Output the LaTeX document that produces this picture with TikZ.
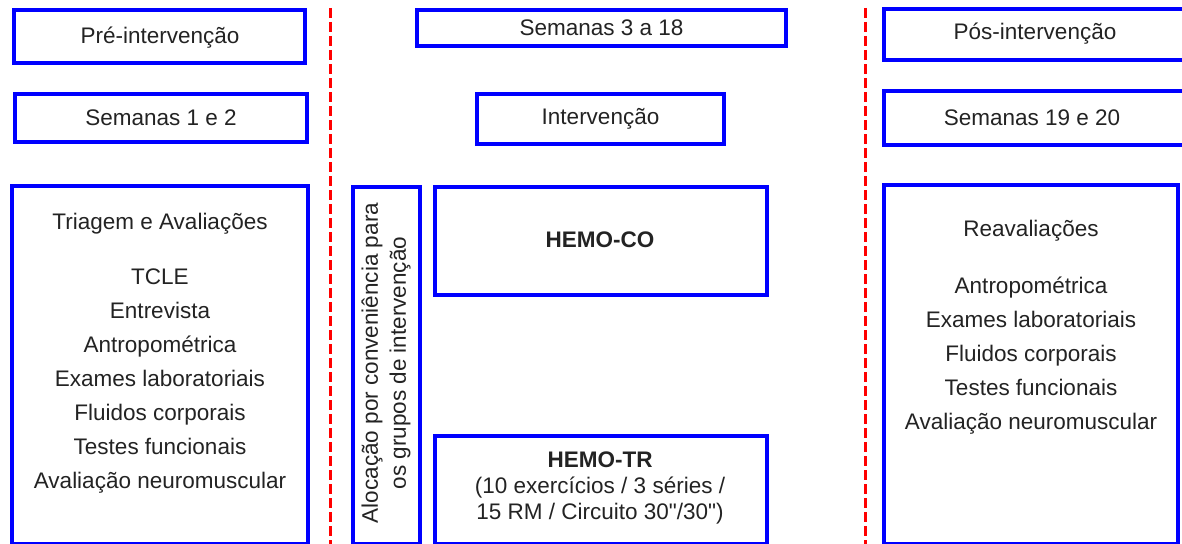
\documentclass[tikz,border=0pt]{standalone}
\usepackage{fontspec}
\setmainfont{Liberation Sans}[Ligatures=TeXOff]
\definecolor{txt}{RGB}{35,35,35}
\definecolor{boxblue}{RGB}{0,0,255}
\definecolor{sepred}{RGB}{255,0,0}
\tikzset{
  box/.style={draw=boxblue, line width=4pt, rectangle, inner sep=0pt, fill=white},
  lbl/.style={text=txt, font=\fontsize{22.5}{26}\selectfont, align=center, inner sep=0pt},
  listlbl/.style={text=txt, font=\fontsize{22.5}{34}\selectfont, align=center, inner sep=0pt},
  sepline/.style={draw=sepred, line width=3pt, dash pattern=on 10pt off 4pt}
}
\begin{document}
\begin{tikzpicture}[x=1pt,y=-1pt]
\useasboundingbox (0,0) rectangle (1182,543);
\fill[white] (0,0) rectangle (1182,543);

% separators
\coordinate (s1t) at (330,8);
\coordinate (s1b) at (330,545);
\coordinate (s2t) at (865,8);
\coordinate (s2b) at (865,545);
\draw[sepline] (s1t) -- (s1b);
\draw[sepline] (s2t) -- (s2b);

% left column
\node[box, minimum width=291pt, minimum height=53pt] (pre) at (159.5,36.5) {};
\node[lbl] (pret) at (160,37.5) {Pré-intervenção};
\node[box, minimum width=292pt, minimum height=48pt] (s12) at (161,118) {};
\node[lbl] (s12t) at (s12.center) {Semanas 1 e 2};
\node[box, minimum width=296pt, minimum height=357.5pt] (tri) at (160,364.75) {};
\node[listlbl] (trit) at (160,353.5) {Triagem e Avaliações\\[21pt]TCLE\\Entrevista\\Antropométrica\\Exames laboratoriais\\Fluidos corporais\\Testes funcionais\\Avaliação neuromuscular};

% middle column
\node[box, minimum width=369pt, minimum height=36pt] (s318) at (601.5,28) {};
\node[lbl] (s318t) at (s318.center) {Semanas 3 a 18};
\node[box, minimum width=247pt, minimum height=50pt] (int) at (600.5,119) {};
\node[lbl] (intt) at (int.center) {Intervenção};
\node[box, minimum width=67pt, minimum height=356.5pt] (aloc) at (386.5,365.25) {};
\node[lbl, rotate=90, font=\fontsize{22.5}{28}\selectfont] (aloct) at (386,363) {Alocação por conveniência para\\os grupos de intervenção};
\node[box, minimum width=332pt, minimum height=108pt] (co) at (601,241) {};
\node[lbl, font=\bfseries\fontsize{22.5}{26}\selectfont] (cot) at (600,240) {HEMO-CO};
\node[box, minimum width=332pt, minimum height=107.5pt] (tr) at (601,489.75) {};
\node[lbl] (trt) at (600,488) {\textbf{HEMO-TR}\\(10 exercícios / 3 séries /\\15 RM / Circuito 30"/30")};

% right column
\node[box, minimum width=306pt, minimum height=51pt] (pos) at (1037,34.5) {};
\node[lbl] (post) at (1035,34) {Pós-intervenção};
\node[box, minimum width=306pt, minimum height=54pt] (s1920) at (1037,118) {};
\node[lbl] (s1920t) at (1032,118) {Semanas 19 e 20};
\node[box, minimum width=294pt, minimum height=358.5pt] (reav) at (1031,364.25) {};
\node[listlbl] (reavt) at (1031,327) {Reavaliações\\[23pt]Antropométrica\\Exames laboratoriais\\Fluidos corporais\\Testes funcionais\\Avaliação neuromuscular};
\end{tikzpicture}
\end{document}
